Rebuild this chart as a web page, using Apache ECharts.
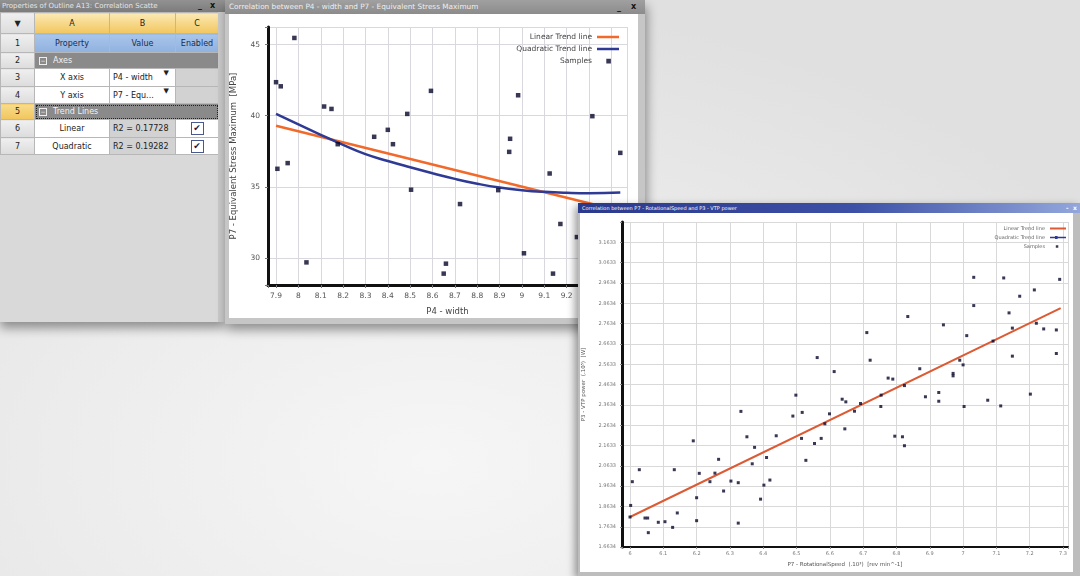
<!DOCTYPE html>
<html><head><meta charset="utf-8">
<script src="https://cdn.jsdelivr.net/npm/echarts@6/dist/echarts.min.js"></script>
<style>
body{margin:0;width:1080px;height:576px;overflow:hidden;position:relative;
 background:radial-gradient(ellipse 70% 80% at 40% 80%, #f6f6f6 0%, #ececec 50%, #e0e0e0 100%);font-family:"DejaVu Sans",sans-serif}
#panel{position:absolute;left:0;top:0;width:225px;height:322px;background:#d9d9d9;box-shadow:0 6px 10px rgba(0,0,0,.4)}
#ptitle{position:absolute;left:0;top:0;width:225px;height:12px;background:linear-gradient(#929292,#7c7c7c);color:#e4e4e4;font-size:7px;line-height:12px;padding-left:2px;box-sizing:border-box;white-space:nowrap}
.btn{position:absolute;top:0;color:#111;font-weight:bold;font-size:8px}
#tbl{position:absolute;left:0;top:12px;border-collapse:collapse;table-layout:fixed;width:218px}
#tbl td{border:1px solid #b7b7b7;padding:0;font-size:8px;color:#222;text-align:center;overflow:hidden;white-space:nowrap;position:relative}
.rh{background:linear-gradient(#efefef,#dcdcdc);color:#333}
.hd{background:linear-gradient(#fce9b4,#f2c65e);color:#333}
.rh5{background:linear-gradient(#f8dc8c,#f1c55c)!important}
.blue{background:linear-gradient(#a9c5ea,#90b2df);color:#1c2c4c!important}
.grp{background:#8a8a8a;color:#f2f2f2!important;text-align:left!important;padding-left:4px!important}
.sel{outline:1px dotted #222;outline-offset:-2px}
.gray{background:#d2d2d2}
.white{background:#fff}
.box{display:inline-block;width:6px;height:6px;border:1px solid #eee;font-size:6px;line-height:6px;text-align:center;vertical-align:middle;margin-right:6px}
.dd{position:absolute;right:6px;top:0;font-size:7px}
.chk{display:inline-block;width:11px;height:11px;border:1px solid #4a5890;background:#fff;font-size:9px;line-height:11px;color:#1a1a3a;vertical-align:middle}
#pstrip{position:absolute;left:218px;top:12px;width:7px;height:310px;background:#c9c9c9}
#win1{position:absolute;left:225px;top:0;width:420px;height:324px;background:#c6c6c6;box-shadow:2px 6px 10px rgba(0,0,0,.4)}
#t1{position:absolute;left:0;top:0;width:420px;height:14px;background:linear-gradient(#a0a0a0,#8b8b8b);color:#eeeeee;font-size:7.3px;line-height:14px;padding-left:4px;box-sizing:border-box;white-space:nowrap}
#c1{position:absolute;left:4px;top:14px;width:409px;height:304px;background:#fff}
#win2{position:absolute;left:578px;top:203px;width:502px;height:373px;background:#bdbdbd;box-shadow:-3px 3px 8px rgba(0,0,0,.4)}
#t2{position:absolute;left:0;top:0;width:502px;height:10px;background:linear-gradient(90deg,#2b398c,#3c50a6 55%,#93a7dc);color:#fff;font-size:5px;line-height:10px;padding-left:4px;box-sizing:border-box;white-space:nowrap}
#c2{position:absolute;left:2px;top:10px;width:493px;height:359px;background:#fff}
</style></head><body>
<div id="panel">
 <div id="ptitle">Properties of Outline A13: Correlation Scatte<span class="btn" style="left:198px">_</span><span class="btn" style="left:210px">x</span></div>
 <table id="tbl">
  <colgroup><col style="width:34px"><col style="width:75px"><col style="width:66px"><col style="width:43px"></colgroup>
  <tr style="height:21px"><td class="rh">&#9660;</td><td class="hd">A</td><td class="hd">B</td><td class="hd">C</td></tr>
  <tr style="height:19px"><td class="rh">1</td><td class="blue">Property</td><td class="blue">Value</td><td class="blue">Enabled</td></tr>
  <tr style="height:16px"><td class="rh">2</td><td class="grp" colspan="3"><span class="box">&#8722;</span>Axes</td></tr>
  <tr style="height:18px"><td class="rh">3</td><td class="white">X axis</td><td class="white" style="text-align:left;padding-left:3px">P4 - width<span class="dd">&#9660;</span></td><td class="gray"></td></tr>
  <tr style="height:17px"><td class="rh">4</td><td class="white">Y axis</td><td class="white" style="text-align:left;padding-left:3px">P7 - Equ...<span class="dd">&#9660;</span></td><td class="gray"></td></tr>
  <tr style="height:16px"><td class="rh rh5">5</td><td class="grp sel" colspan="3"><span class="box">&#8722;</span>Trend Lines</td></tr>
  <tr style="height:18px"><td class="rh">6</td><td class="white">Linear</td><td class="gray" style="text-align:left;padding-left:3px">R2 = 0.17728</td><td class="white"><span class="chk">&#10004;</span></td></tr>
  <tr style="height:17px"><td class="rh">7</td><td class="white">Quadratic</td><td class="gray" style="text-align:left;padding-left:3px">R2 = 0.19282</td><td class="white"><span class="chk">&#10004;</span></td></tr>
 </table>
 <div id="pstrip"></div>
</div>
<div id="win1">
 <div id="t1">Correlation between P4 - width and P7 - Equivalent Stress Maximum<span class="btn" style="left:392px;top:1px">_</span><span class="btn" style="left:406px;top:0">x</span></div>
 <div id="c1"></div>
</div>
<div id="win2">
 <div id="t2">Correlation between P7 - RotationalSpeed and P3 - VTP power<span class="btn" style="left:488px;color:#fff;font-size:6px">-</span><span class="btn" style="left:495px;color:#fff;font-size:6px">x</span></div>
 <div id="c2"></div>
</div>
<script>
// ---------- Chart 1 data ----------
const xTicks1 = ['7.9','8','8.1','8.2','8.3','8.4','8.5','8.6','8.7','8.8','8.9','9','9.1','9.2','9.3','9.4'];
const yTicks1 = ['30','35','40','45'];
const samplesX1 = [7.9,7.921,7.982,7.906,7.952,8.036,8.115,8.148,8.176,8.339,8.4,8.423,8.487,8.504,8.593,8.65,8.66,8.723,8.894,8.943,8.947,8.983,9.009,9.124,9.139,9.172,9.246,9.315,9.44];
const samplesY1 = [42.36,42.07,45.47,36.27,36.67,29.69,40.65,40.48,38.0,38.52,39.01,38.0,40.13,34.8,41.75,28.9,29.6,33.79,34.77,37.46,38.38,41.44,30.33,35.94,28.9,32.39,31.47,39.97,37.39];
const linearX1 = [7.9, 9.44];
const linearY1 = [39.3, 33.3];
const quadX1 = [7.9,8.0,8.1,8.2,8.3,8.4,8.5,8.6,8.7,8.8,8.9,9.0,9.1,9.2,9.3,9.44];
const quadY1 = [40.13,39.4,38.66,37.95,37.3,36.82,36.38,35.96,35.56,35.22,34.95,34.77,34.65,34.58,34.55,34.6];

// ---------- Chart 2 data ----------
const xTicks2 = ['6','6.1','6.2','6.3','6.4','6.5','6.6','6.7','6.8','6.9','7','7.1','7.2','7.3'];
const yTicks2 = ['1.6634','1.7634','1.8634','1.9634','2.0633','2.1633','2.2634','2.3634','2.4634','2.5633','2.6633','2.7634','2.8634','2.9634','3.0633','3.1633'];
const samplesX2 = [6.000,6.002,6.007,6.028,6.045,6.053,6.055,6.085,6.105,6.128,6.133,6.142,6.19,6.2,6.2,6.208,6.24,6.255,6.266,6.281,6.303,6.325,6.325,6.333,6.351,6.367,6.374,6.392,6.402,6.41,6.42,6.439,6.489,6.498,6.515,6.517,6.528,6.554,6.574,6.585,6.599,6.637,6.645,6.648,6.674,6.692,6.753,6.754,6.795,6.818,6.824,6.824,6.887,6.927,6.927,7.003,7.074,7.113,7.202,
  6.562,6.613,6.711,6.721,6.775,6.789,6.834,6.87,6.941,6.97,6.97,6.99,7.0,7.011,7.032,7.032,7.09,7.122,7.138,7.148,7.148,7.17,7.214,7.22,7.242,7.28,7.28,7.29];
const samplesY2 = [1.811,1.868,1.985,2.044,1.806,1.806,1.734,1.785,1.788,1.760,2.044,1.831,2.186,1.906,1.793,2.026,1.985,2.027,2.095,1.939,1.988,1.980,1.781,2.331,2.206,2.073,2.154,1.899,1.968,2.104,1.993,2.211,2.308,2.411,2.198,2.326,2.090,2.173,2.198,2.270,2.319,2.391,2.245,2.378,2.332,2.370,2.355,2.411,2.209,2.206,2.162,2.458,2.403,2.424,2.381,2.355,2.386,2.358,2.416,
  2.596,2.527,2.719,2.583,2.495,2.490,2.798,2.541,2.757,2.518,2.506,2.583,2.560,2.704,2.991,2.852,2.677,2.988,2.816,2.741,2.603,2.898,2.929,2.765,2.737,2.732,2.616,2.981];
const linearX2 = [6.0, 7.293];
const linearY2 = [1.811, 2.839];
const quadX2 = [];
const quadY2 = [];

const zip = (a, b) => a.map((v, i) => [v, b[i]]);
const lab = (arr, tol) => v => { for (const s of arr) { if (Math.abs(parseFloat(s) - v) < tol) return s; } return ''; };
const FONT = 'DejaVu Sans';

// legend icons (corner specks keep the icon box = item box)
const L1 = 'path://M0,0h.01v.01h-.01zM0,4.8h22v2.5h-22zM21.99,11.99h.01v.01h-.01z';
const S1 = 'path://M0,0h.01v.01h-.01zM9.3,3.8h4.6v4.6h-4.6zM21.99,11.99h.01v.01h-.01z';
const L2 = 'path://M0,0h.01v.01h-.01zM0,3.6h16v1.8h-16zM15.99,8.99h.01v.01h-.01z';
const Q2 = 'path://M0,0h.01v.01h-.01zM0,3.7h16v1.6h-16zM5,2.9h2.6v3.2h-2.6zM15.99,8.99h.01v.01h-.01z';
const S2 = 'path://M0,0h.01v.01h-.01zM5.8,3.3h2.5v2.5h-2.5zM15.99,8.99h.01v.01h-.01z';

const ORANGE1 = '#f26a2b', BLUE = '#2e3a94', DARK = '#06062a', ORANGE2 = '#dc5a34';

const c1 = echarts.init(document.getElementById('c1'));
c1.setOption({
  animation: false,
  textStyle: {fontFamily: FONT},
  grid: {left: 39, top: 13, right: 11, bottom: 33, containLabel: false, outerBoundsMode: 'none'},
  legend: {orient: 'vertical', right: 19, top: 17, padding: 0, align: 'right', itemWidth: 22, itemHeight: 12, itemGap: 0,
    selectedMode: false, itemStyle: {borderWidth: 0},
    textStyle: {fontSize: 7.5, color: '#444', fontFamily: FONT},
    data: [{name: 'Linear Trend line', icon: L1}, {name: 'Quadratic Trend line', icon: L1}, {name: 'Samples', icon: S1}]},
  xAxis: {type: 'value', min: 7.864, max: 9.47, splitNumber: 15, minInterval: 0.1, maxInterval: 0.1,
    name: 'P4 - width', nameLocation: 'middle', nameGap: 22, nameTextStyle: {fontSize: 8.5, color: '#444', fontFamily: FONT},
    axisLine: {lineStyle: {color: '#111', width: 3}},
    axisTick: {show: true, length: 3, lineStyle: {color: '#777'}},
    axisLabel: {fontSize: 7.5, color: '#555', margin: 7, formatter: lab(xTicks1, 1e-6), fontFamily: FONT},
    splitLine: {show: true, lineStyle: {color: '#d8d8de', width: 1}}},
  yAxis: {type: 'value', min: 28.1, max: 46.24, splitNumber: 4, minInterval: 5, maxInterval: 5,
    name: 'P7 - Equivalent Stress Maximum  [MPa]', nameLocation: 'middle', nameGap: 30,
    nameTextStyle: {fontSize: 8.5, color: '#444', fontFamily: FONT},
    axisLine: {lineStyle: {color: '#111', width: 3}},
    axisTick: {show: true, length: 3, lineStyle: {color: '#777'}},
    axisLabel: {fontSize: 7.5, color: '#555', margin: 8, formatter: lab(yTicks1, 1e-6), fontFamily: FONT},
    splitLine: {show: true, lineStyle: {color: '#d8d8de', width: 1}}},
  series: [
    {name: 'Linear Trend line', type: 'line', symbol: 'none', data: zip(linearX1, linearY1), lineStyle: {color: ORANGE1, width: 2.5}, itemStyle: {color: ORANGE1}, z: 3},
    {name: 'Quadratic Trend line', type: 'line', symbol: 'none', smooth: true, data: zip(quadX1, quadY1), lineStyle: {color: BLUE, width: 2.5}, itemStyle: {color: BLUE}, z: 3},
    {name: 'Samples', type: 'scatter', symbol: 'rect', symbolSize: 4.5, data: zip(samplesX1, samplesY1), itemStyle: {color: DARK}, z: 4}
  ]
});

const c2 = echarts.init(document.getElementById('c2'));
c2.setOption({
  animation: false,
  textStyle: {fontFamily: FONT},
  grid: {left: 42, top: 9, right: 5, bottom: 25, containLabel: false, outerBoundsMode: 'none'},
  legend: {orient: 'vertical', right: 7, top: 11, padding: 0, align: 'right', itemWidth: 16, itemHeight: 9, itemGap: 0,
    selectedMode: false, itemStyle: {borderWidth: 0},
    textStyle: {fontSize: 5, color: '#666', fontFamily: FONT},
    data: [{name: 'Linear Trend line', icon: L2}, {name: 'Quadratic Trend line', icon: Q2}, {name: 'Samples', icon: S2}]},
  xAxis: {type: 'value', min: 5.976, max: 7.315, splitNumber: 14, minInterval: 0.1, maxInterval: 0.1,
    name: 'P7 - RotationalSpeed  (.10³)  [rev min^-1]', nameLocation: 'middle', nameGap: 15,
    nameTextStyle: {fontSize: 5.5, color: '#555', fontFamily: FONT},
    axisLine: {lineStyle: {color: '#111', width: 2}},
    axisTick: {show: true, length: 2, lineStyle: {color: '#888'}},
    axisLabel: {fontSize: 5, color: '#777', margin: 4, formatter: lab(xTicks2, 1e-6), fontFamily: FONT},
    splitLine: {show: true, lineStyle: {color: '#d9d9d9', width: 1}}},
  yAxis: {type: 'value', min: 1.6634, max: 3.2634, interval: 0.1,
    name: 'P3 - VTP power  (.10⁵)  [W]', nameLocation: 'middle', nameGap: 35,
    nameTextStyle: {fontSize: 5.5, color: '#555', fontFamily: FONT},
    axisLine: {lineStyle: {color: '#111', width: 3}},
    axisTick: {show: true, length: 2, lineStyle: {color: '#888'}},
    axisLabel: {fontSize: 5, color: '#777', margin: 6, formatter: lab(yTicks2, 0.003), fontFamily: FONT},
    splitLine: {show: true, lineStyle: {color: '#d9d9d9', width: 1}}},
  series: [
    {name: 'Linear Trend line', type: 'line', symbol: 'none', data: zip(linearX2, linearY2), lineStyle: {color: ORANGE2, width: 2}, itemStyle: {color: ORANGE2}, z: 3},
    {name: 'Quadratic Trend line', type: 'line', symbol: 'none', data: zip(quadX2, quadY2), lineStyle: {color: BLUE, width: 2}, itemStyle: {color: BLUE}, z: 3},
    {name: 'Samples', type: 'scatter', symbol: 'rect', symbolSize: 3, data: zip(samplesX2, samplesY2), itemStyle: {color: DARK}, z: 4}
  ]
});
</script>
</body></html>
